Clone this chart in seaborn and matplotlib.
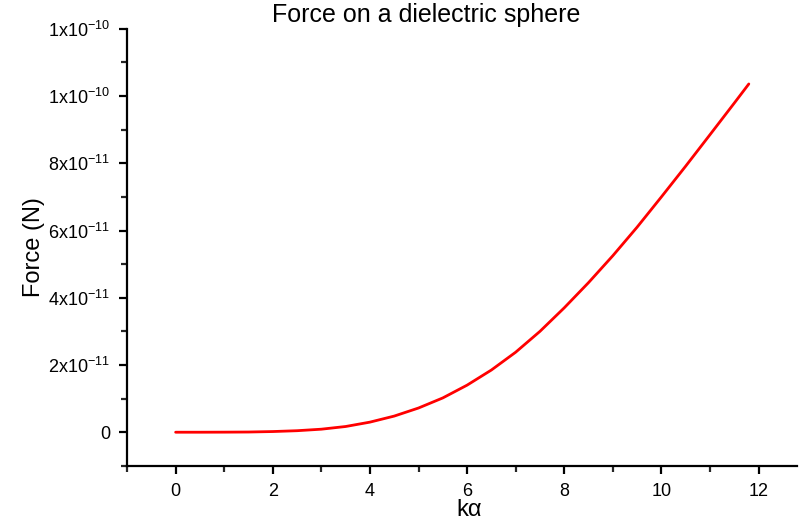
import numpy as np
import pandas as pd
import matplotlib
matplotlib.use("Agg")
import matplotlib.pyplot as plt
from matplotlib.ticker import MultipleLocator, FuncFormatter
import seaborn as sns

# Size parameter k*a and the resulting optical force (in units of 1e-11 N)
ka = [0.0, 0.5, 1.0, 1.5, 2.0, 2.5, 3.0, 3.5, 4.0, 4.5, 5.0, 5.5, 6.0,
      6.5, 7.0, 7.5, 8.0, 8.5, 9.0, 9.5, 10.0, 10.5, 11.0, 11.5, 11.8]
force_e11 = [0.0, 0.0, 0.002, 0.006, 0.02, 0.045, 0.09, 0.17, 0.30, 0.48,
             0.72, 1.02, 1.40, 1.85, 2.38, 3.00, 3.70, 4.45, 5.25, 6.10,
             7.00, 7.915, 8.85, 9.79, 10.36]

df = pd.DataFrame({"ka": ka, "force": np.array(force_e11) * 1e-11})

sns.set_style("ticks")
plt.rcParams["font.family"] = ["Liberation Sans", "DejaVu Sans"]
plt.rcParams["mathtext.fontset"] = "custom"
plt.rcParams["mathtext.rm"] = "Liberation Sans"
plt.rcParams["mathtext.default"] = "regular"
plt.rcParams["text.color"] = "black"
plt.rcParams["axes.labelcolor"] = "black"

fig = plt.figure(figsize=(7.99, 5.24), dpi=100)
ax = fig.add_axes([0.159, 0.111, 0.839, 0.834])

sns.lineplot(data=df, x="ka", y="force", color="#ff0000", linewidth=2,
             ax=ax, legend=False)

ax.set_xlim(-1, 12.8)
ax.set_ylim(-1e-11, 1.2e-10)
ax.xaxis.set_major_locator(MultipleLocator(2))
ax.xaxis.set_minor_locator(MultipleLocator(1))
ax.yaxis.set_major_locator(MultipleLocator(2e-11))
ax.yaxis.set_minor_locator(MultipleLocator(1e-11))


def sci_label(v, pos):
    if abs(v) < 1e-15:
        return "0"
    exp = int(np.floor(np.log10(abs(v)) + 1e-9))
    mant = int(round(v / 10 ** exp))
    if mant >= 10:
        mant = 1
    return f"{mant}x10$^{{{exp}}}$"


ax.yaxis.set_major_formatter(FuncFormatter(sci_label))

for s in ("left", "bottom"):
    ax.spines[s].set_linewidth(1.6)
    ax.spines[s].set_color("black")
sns.despine(ax=ax)

ax.tick_params(which="major", direction="out", length=6, width=1.6,
               labelsize=13, colors="black", pad=6)
ax.tick_params(which="minor", direction="out", length=4, width=1.6)

ax.set_xlabel("kα", fontsize=17, labelpad=0)
ax.xaxis.set_label_coords(0.51, -0.075)
ax.set_ylabel("Force (N)", fontsize=17, labelpad=2)
ax.set_title("Force on a dielectric sphere", fontsize=18, pad=5,
             color="black", x=0.446)

fig.savefig("out.png", dpi=100)
